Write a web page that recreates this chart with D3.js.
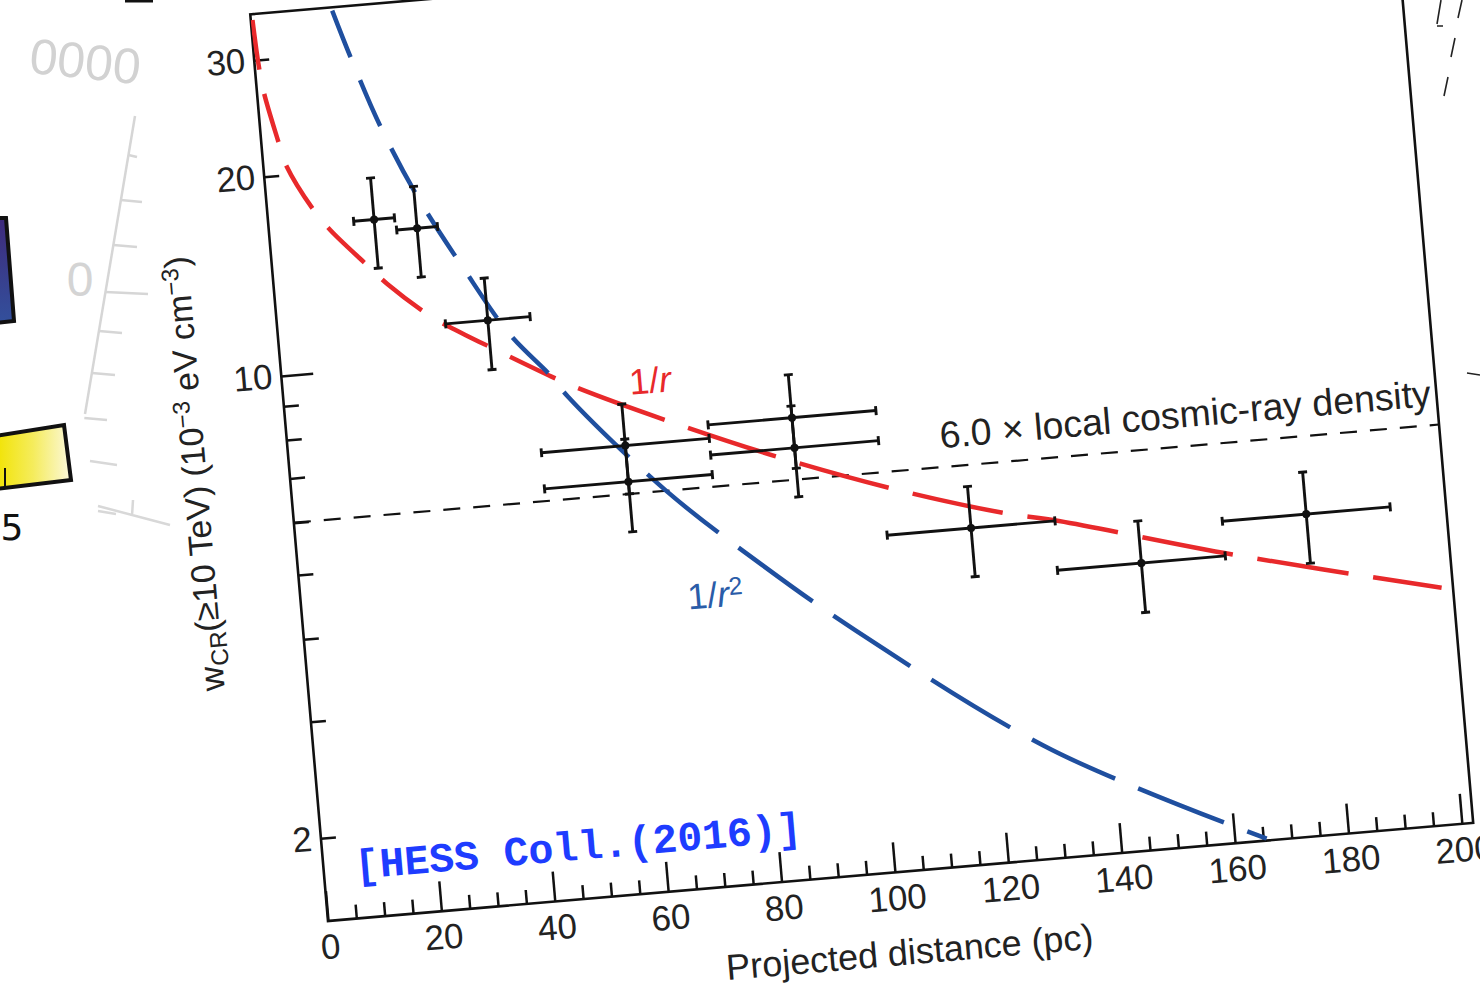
<!DOCTYPE html>
<html><head><meta charset="utf-8">
<script src="https://cdn.jsdelivr.net/npm/d3@7"></script>
<style>
html,body{margin:0;padding:0;background:#fff;}
svg{display:block;}
</style></head><body>
<svg id="c" width="1480" height="988"></svg>
<script>
// ---------------- data ----------------
const distance    = [18.6, 26.0, 37.0, 59.2, 59.2, 88.8, 88.8, 118.5, 147.8, 177.4];
const distanceErr = [3.6, 3.6, 7.45, 14.8, 14.8, 14.8, 14.8, 14.8, 14.8, 14.8];
const density     = [16.7, 16.0, 11.4, 7.1, 6.26, 7.44, 6.70, 4.82, 4.06, 4.58];
const densityErr  = [2.6, 2.5, 1.8, 1.1, 1.0, 1.2, 1.05, 0.75, 0.64, 0.72];

const invR_x  = [0.3, 0.7, 1.2, 3.0, 3.9, 8.1, 10.8, 17.0, 20.0, 26.8, 30.7, 37.7, 47.3, 51.8, 67.4, 87.4, 107.2, 124.4, 134, 163.9, 200.0];
const invR_y  = [34.5, 29.5, 26.8, 22.5, 20.8, 17.6, 16.3, 14.2, 13.3, 11.8, 11.2, 10.3, 9.21, 8.78, 7.61, 6.44, 5.58, 5.03, 4.81, 4.07, 3.41];
const invR2_x = [14.4, 16.9, 21.1, 26.6, 33.6, 40.6, 47.3, 49.9, 65.5, 81.4, 96.6, 129.2, 165.6];
const invR2_y = [34.8, 29.5, 23.0, 17.8, 13.7, 10.8, 9.21, 8.55, 6.02, 4.51, 3.51, 2.19, 1.51];

const localLevel = 6.0;

const xMajorTicks = [0, 20, 40, 60, 80, 100, 120, 140, 160, 180, 200];
const xMinorTicks = d3.range(5, 200, 5).filter(v => v % 20 !== 0);
const yLabelTicks = [2, 10, 20, 30];
const yMinorTicks = [3, 4, 5, 6, 7, 8, 9];

// ---------------- layout ----------------
const svg = d3.select("#c");
const SANS = '"Liberation Sans", Arial, Helvetica, sans-serif';
const ox = 328, oy = 921, ang = -4.9;
const xMax = 202, pxPerUnit = 5.69, W = xMax * pxPerUnit;
const yMin = 1.5, yMax = 35.2, pxPerDecade = 664, H = pxPerDecade * Math.log10(yMax / yMin);

const x = d3.scaleLinear().domain([0, xMax]).range([0, W]);
const y = d3.scaleLog().domain([yMin, yMax]).range([0, -H]);

const defs = svg.append("defs");
const gy = defs.append("linearGradient").attr("id", "yel").attr("x1", 0).attr("x2", 1).attr("y1", 0).attr("y2", 0);
gy.append("stop").attr("offset", 0).attr("stop-color", "#f1e300");
gy.append("stop").attr("offset", 0.5).attr("stop-color", "#f5ec5c");
gy.append("stop").attr("offset", 1).attr("stop-color", "#fbf8dc");
const gp = defs.append("linearGradient").attr("id", "pur").attr("x1", 0).attr("x2", 0).attr("y1", 0).attr("y2", 1);
gp.append("stop").attr("offset", 0).attr("stop-color", "#3e2a7c");
gp.append("stop").attr("offset", 1).attr("stop-color", "#33509c");
defs.append("clipPath").attr("id", "plotclip").append("rect")
  .attr("x", 0).attr("y", -H).attr("width", W).attr("height", H);

// ---------------- background fragments of neighbouring figures ----------------
const bg = svg.append("g");
bg.append("text").attr("x", 30).attr("y", 78).attr("transform", "rotate(6,80,58)")
  .attr("font-family", SANS).attr("font-size", 50).attr("fill", "#d2d2d2").text("0000");
bg.append("path").attr("d", "M135,116 L85,414").attr("stroke", "#d6d6d6").attr("stroke-width", 2.5).attr("fill", "none");
[[155,137],[200,142],[245,137],[292,148],[331,122],[373,115],[418,107]].forEach(([yy, x2]) => {
  const xa = 135 - (yy - 116) * (50 / 298);
  bg.append("line").attr("x1", xa).attr("y1", yy).attr("x2", x2).attr("y2", yy + 2)
    .attr("stroke", "#d6d6d6").attr("stroke-width", 2.5);
});
bg.append("text").attr("x", 80).attr("y", 296).attr("text-anchor", "middle")
  .attr("font-family", SANS).attr("font-size", 48).attr("fill", "#d4d4d4").text("0");
bg.append("path").attr("d", "M90,461 L117,465 M98,506 L170,525 M98,511 L116,514 M133,500 L132,516")
  .attr("stroke", "#d8d8d8").attr("stroke-width", 2.5).attr("fill", "none");
bg.append("path").attr("d", "M-5,218 L6,218 L14,321 L-5,323 Z").attr("fill", "url(#pur)")
  .attr("stroke", "#111").attr("stroke-width", 4);
bg.append("path").attr("d", "M-5,436 L64,425 L71,480 L-5,489 Z").attr("fill", "url(#yel)")
  .attr("stroke", "#111").attr("stroke-width", 4);
bg.append("line").attr("x1", 5).attr("y1", 468).attr("x2", 5).attr("y2", 486).attr("stroke", "#111").attr("stroke-width", 2);
bg.append("text").attr("x", 12).attr("y", 540).attr("text-anchor", "middle")
  .attr("font-family", '"DejaVu Sans", sans-serif').attr("font-size", 36).attr("fill", "#111").text("5");
bg.append("rect").attr("x", 125).attr("y", 0).attr("width", 28).attr("height", 2.5).attr("fill", "#111");
bg.append("path").attr("d", "M1462,0 L1458,18 M1455,38 L1451,57 M1448,77 L1444,96 M1441,0 L1437,24 M1437,26 L1443,26 M1467,373 L1480,375")
  .attr("stroke", "#222").attr("stroke-width", 1.6).attr("fill", "none");

// ---------------- chart (rotated frame) ----------------
const g = svg.append("g").attr("transform", `translate(${ox},${oy}) rotate(${ang})`);

const axisStyle = sel => {
  sel.select(".domain").remove();
  sel.selectAll("line").attr("stroke", "#111").attr("stroke-width", 2.5);
  sel.selectAll("text").attr("fill", "#222").attr("font-family", SANS).attr("font-size", 35);
};

g.append("g").call(d3.axisBottom(x).tickValues(xMinorTicks).tickSize(-14).tickFormat("")).call(axisStyle);
g.append("g").call(d3.axisBottom(x).tickValues(xMajorTicks).tickSize(-30).tickPadding(13).tickFormat(d3.format("d"))).call(axisStyle);
g.append("g").call(d3.axisLeft(y).tickValues(yMinorTicks).tickSize(-15).tickFormat("")).call(axisStyle);
const yAx = g.append("g").call(d3.axisLeft(y).tickValues(yLabelTicks).tickSize(-15).tickPadding(9).tickFormat(d3.format("d"))).call(axisStyle);
yAx.selectAll(".tick").filter(d => d === 10).select("line").attr("x2", 32);

// frame
g.append("rect").attr("x", 0).attr("y", -H).attr("width", W).attr("height", H)
  .attr("fill", "none").attr("stroke", "#111").attr("stroke-width", 2.6);

const plot = g.append("g").attr("clip-path", "url(#plotclip)");

// local CR density line
plot.append("line").attr("x1", x(0)).attr("x2", x(xMax)).attr("y1", y(localLevel)).attr("y2", y(localLevel))
  .attr("stroke", "#111").attr("stroke-width", 2.2).attr("stroke-dasharray", "17 13");

// model curves
const line = d3.line().x(d => x(d[0])).y(d => y(d[1])).curve(d3.curveCatmullRom.alpha(0.5));
function variableDash(node) {
  const total = node.getTotalLength();
  const out = [];
  let s = 0, on = true;
  while (s < total + 100) {
    const p = node.getPointAtLength(Math.min(s, total));
    const len = on ? (x.invert(p.x) < 49 ? 50 : 92) : 25;
    out.push(len); s += len; on = !on;
  }
  return out.join(" ");
}
const redP = plot.append("path").datum(d3.zip(invR_x, invR_y)).attr("d", line)
  .attr("fill", "none").attr("stroke", "#e8292b").attr("stroke-width", 4.5);
redP.attr("stroke-dasharray", variableDash(redP.node()));
const blueP = plot.append("path").datum(d3.zip(invR2_x, invR2_y)).attr("d", line)
  .attr("fill", "none").attr("stroke", "#1f4f9f").attr("stroke-width", 4.5);
blueP.attr("stroke-dasharray", variableDash(blueP.node()));

// data points with error bars
const pts = distance.map((d, i) => ({ x: d, xe: distanceErr[i], y: density[i], ye: densityErr[i] }));
const eb = plot.append("g").attr("stroke", "#111").attr("stroke-width", 2.9).attr("fill", "none");
const cap = 4.5;
pts.forEach(p => {
  const cx = x(p.x), cy = y(p.y);
  const x0 = x(p.x - p.xe), x1 = x(p.x + p.xe);
  const y0 = y(p.y - p.ye), y1 = y(p.y + p.ye);
  eb.append("line").attr("x1", x0).attr("x2", x1).attr("y1", cy).attr("y2", cy);
  eb.append("line").attr("x1", cx).attr("x2", cx).attr("y1", y0).attr("y2", y1);
  eb.append("line").attr("x1", x0).attr("x2", x0).attr("y1", cy - cap).attr("y2", cy + cap);
  eb.append("line").attr("x1", x1).attr("x2", x1).attr("y1", cy - cap).attr("y2", cy + cap);
  eb.append("line").attr("x1", cx - cap).attr("x2", cx + cap).attr("y1", y0).attr("y2", y0);
  eb.append("line").attr("x1", cx - cap).attr("x2", cx + cap).attr("y1", y1).attr("y2", y1);
});
plot.append("g").selectAll("circle").data(pts).join("circle")
  .attr("cx", d => x(d.x)).attr("cy", d => y(d.y)).attr("r", 4).attr("fill", "#111");

// annotations
g.append("text").attr("x", x(201)).attr("y", y(localLevel) - 19).attr("text-anchor", "end")
  .attr("font-family", SANS).attr("font-size", 37.5).attr("fill", "#222")
  .text("6.0 \u00d7 local cosmic-ray density");

const tR = g.append("text").attr("x", x(64.5)).attr("y", y(8.83)).attr("dy", "0.35em").attr("text-anchor", "middle")
  .attr("font-family", SANS).attr("font-size", 36).attr("fill", "#e8292b");
tR.append("tspan").text("1/");
tR.append("tspan").attr("font-style", "italic").text("r");

const tR2 = g.append("text").attr("x", x(72.7)).attr("y", y(4.13)).attr("dy", "0.35em").attr("text-anchor", "middle")
  .attr("font-family", SANS).attr("font-size", 36).attr("fill", "#2a5ca8");
tR2.append("tspan").text("1/");
tR2.append("tspan").attr("font-style", "italic").text("r");
tR2.append("tspan").attr("font-size", 25).attr("baseline-shift", "45%").text("2");

g.append("text").attr("x", x(44.9)).attr("y", -54).attr("dy", "0.35em").attr("text-anchor", "middle")
  .attr("font-family", '"Liberation Mono", "Courier New", monospace').attr("font-weight", "bold")
  .attr("font-size", 41.5).attr("fill", "#1e3cff").text("[HESS Coll.(2016)]");

// axis titles
g.append("text").attr("x", x(101.4)).attr("y", 93).attr("text-anchor", "middle")
  .attr("font-family", SANS).attr("font-size", 36).attr("fill", "#222").text("Projected distance (pc)");

const yl = g.append("text").attr("transform", `translate(-95,${-457}) rotate(-90)`).attr("dy", "0.35em")
  .attr("text-anchor", "middle").attr("font-family", SANS).attr("font-size", 34).attr("fill", "#222");
yl.append("tspan").text("w");
yl.append("tspan").attr("font-size", 24).attr("baseline-shift", "-25%").text("CR");
yl.append("tspan").text("(\u226510 TeV) (10");
yl.append("tspan").attr("font-size", 24).attr("baseline-shift", "45%").text("\u22123");
yl.append("tspan").text(" eV cm");
yl.append("tspan").attr("font-size", 24).attr("baseline-shift", "45%").text("\u22123");
yl.append("tspan").text(")");
</script>
</body></html>
